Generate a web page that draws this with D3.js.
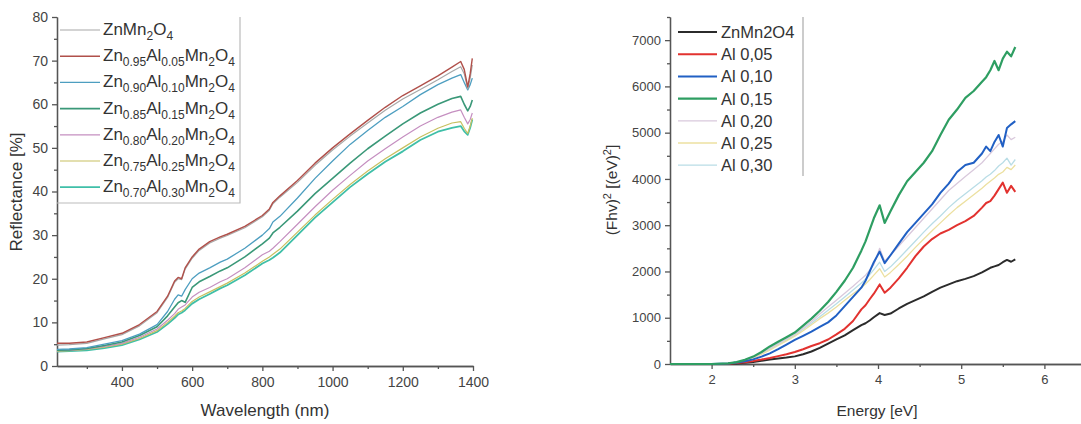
<!DOCTYPE html>
<html>
<head>
<meta charset="utf-8">
<script src="https://cdn.jsdelivr.net/npm/d3@7"></script>
<style>
  body { margin: 0; background: #fff; }
  svg { font-family: "Liberation Sans", Arial, sans-serif; }
  .axis path, .axis line { stroke: #555; stroke-width: 1.3; }
  .axis text { fill: #444; }
</style>
</head>
<body>
<svg id="chart"></svg>
<script>
// left panel: reflectance vs wavelength
const wavelength = [215, 250, 300, 350, 400, 450, 500, 530, 550, 560, 570, 580, 600, 620, 650, 680, 700, 750, 800, 820,
                    830, 850, 900, 950, 1000, 1050, 1100, 1150, 1200, 1250, 1300, 1340, 1365, 1375, 1385, 1392, 1398];
// legend labels: plain text followed by its subscript ("" = none)
const reflNames = [[["Zn", ""], ["Mn", "2"], ["O", "4"]],
                   [["Zn", "0.95"], ["Al", "0.05"], ["Mn", "2"], ["O", "4"]],
                   [["Zn", "0.90"], ["Al", "0.10"], ["Mn", "2"], ["O", "4"]],
                   [["Zn", "0.85"], ["Al", "0.15"], ["Mn", "2"], ["O", "4"]],
                   [["Zn", "0.80"], ["Al", "0.20"], ["Mn", "2"], ["O", "4"]],
                   [["Zn", "0.75"], ["Al", "0.25"], ["Mn", "2"], ["O", "4"]],
                   [["Zn", "0.70"], ["Al", "0.30"], ["Mn", "2"], ["O", "4"]]];
const refl00 = [4.8, 4.9, 5.2, 6.2, 7.2, 9.2, 12.2, 15.7, 19.2, 20, 19.8, 22.2, 24.7, 26.5, 28.2, 29.3, 29.9, 31.7, 34.2, 35.7,
                37.2, 38.7, 42.1, 46, 49.5, 52.7, 55.7, 58.6, 61.2, 63.4, 65.6, 67.5, 68.6, 67, 63.5, 66, 69];
const refl05 = [5.2, 5.2, 5.5, 6.5, 7.5, 9.5, 12.5, 16, 19.5, 20.3, 20, 22.5, 25, 26.8, 28.5, 29.6, 30.2, 32, 34.5, 36,
                37.5, 39, 42.5, 46.5, 50, 53.2, 56.3, 59.3, 62, 64.2, 66.5, 68.5, 69.8, 68, 64, 67, 70.5];
const refl10 = [3.8, 3.9, 4.2, 5, 5.8, 7.3, 9.5, 12.5, 15.3, 16.3, 16, 17.5, 20, 21.3, 22.5, 23.8, 24.5, 27, 30, 31.5,
                33, 34.3, 38.5, 43, 47, 50.8, 54, 57, 59.5, 62.2, 64.5, 66, 66.8, 65, 63.3, 64.5, 66];
const refl15 = [3.6, 3.7, 4, 4.7, 5.5, 7, 9, 11.5, 13.5, 14.5, 15, 14.6, 18, 19.3, 20.5, 21.8, 22.5, 25, 28, 29.3,
                30.5, 31.8, 35.5, 39.5, 43, 46.5, 49.8, 52.7, 55.5, 58, 60, 61.3, 61.8, 60, 58.5, 59.5, 61];
const refl20 = [3.5, 3.6, 3.9, 4.5, 5.2, 6.6, 8.5, 10.5, 12, 13, 13.5, 14, 15.8, 16.9, 18, 19.3, 20, 22.5, 25.5, 26.3,
                27, 28.5, 32.5, 36.5, 40.3, 43.7, 47, 49.8, 52.5, 55, 57, 58.2, 58.7, 57, 55.5, 56.5, 58];
const refl25 = [3.4, 3.5, 3.8, 4.3, 5, 6.3, 8.1, 10, 11.4, 12.2, 12.6, 13.2, 14.8, 15.8, 17, 18.2, 19, 21.3, 24, 25,
                25.6, 26.8, 30.7, 34.6, 38.2, 41.6, 44.7, 47.5, 50, 52.5, 54.5, 55.7, 56, 54.5, 53.3, 55, 56.8];
const refl30 = [3.3, 3.4, 3.6, 4.1, 4.8, 6.1, 7.8, 9.6, 11, 11.8, 12.2, 12.8, 14.3, 15.3, 16.5, 17.8, 18.5, 20.8, 23.5, 24.3,
                24.8, 26, 30, 34, 37.5, 41, 44, 46.8, 49.2, 51.8, 53.7, 54.6, 55, 53.8, 53, 54.6, 56.5];
const reflSeries = [refl00, refl05, refl10, refl15, refl20, refl25, refl30];
const reflColors = ["#a8a8a8", "#b0504a", "#4d9ec0", "#3a9878", "#c58fc0", "#c7c060", "#3fbfa8"];
const reflWidths = [1.2, 1.4, 1.3, 1.6, 1.2, 1.2, 1.8];
const reflXTicks = [400, 600, 800, 1000, 1200, 1400];
const reflYTicks = [0, 10, 20, 30, 40, 50, 60, 70, 80];

// right panel: (Fhv)^2 vs energy
const energy = [1.5, 1.8, 2.0, 2.2, 2.3, 2.4, 2.5, 2.6, 2.7, 2.8, 2.9, 3.0, 3.1, 3.2, 3.3, 3.4, 3.5, 3.6, 3.7, 3.8,
                3.85, 3.9, 3.95, 4.02, 4.08, 4.15, 4.25, 4.35, 4.45, 4.55, 4.65, 4.75, 4.85, 4.95, 5.05, 5.15, 5.25, 5.3, 5.35, 5.4,
                5.45, 5.5, 5.55, 5.6, 5.65];
const kmNames = ["ZnMn2O4", "Al 0,05", "Al 0,10", "Al 0,15", "Al 0,20", "Al 0,25", "Al 0,30"];
const km00 = [0, 0, 0, 5, 12, 25, 45, 70, 95, 120, 140, 165, 210, 270, 350, 440, 530, 620, 730, 840,
              880, 940, 1010, 1100, 1060, 1090, 1200, 1300, 1380, 1460, 1560, 1650, 1720, 1790, 1840, 1900, 1980, 2030, 2080, 2110,
              2140, 2200, 2250, 2210, 2260];
const km05 = [0, 0, 0, 8, 20, 40, 65, 95, 130, 170, 210, 260, 320, 390, 450, 530, 640, 760, 930, 1180,
              1270, 1400, 1520, 1720, 1540, 1650, 1850, 2080, 2330, 2540, 2700, 2820, 2900, 3000, 3090, 3200, 3380, 3480, 3520, 3640,
              3780, 3920, 3700, 3850, 3720];
const km10 = [0, 0, 0, 10, 30, 60, 100, 160, 230, 320, 420, 520, 610, 700, 800, 900, 1050, 1250, 1450, 1650,
              1800, 2000, 2200, 2430, 2180, 2350, 2600, 2850, 3050, 3250, 3450, 3700, 3900, 4150, 4300, 4350, 4550, 4700, 4600, 4800,
              4950, 4700, 5100, 5180, 5250];
const km15 = [0, 0, 0, 15, 40, 90, 160, 260, 380, 480, 580, 680, 830, 980, 1150, 1340, 1560, 1800, 2080, 2450,
              2650, 2900, 3150, 3430, 3050, 3300, 3650, 3950, 4150, 4350, 4600, 4950, 5280, 5500, 5750, 5900, 6100, 6200, 6350, 6550,
              6350, 6600, 6750, 6650, 6850];
const km20 = [0, 0, 0, 15, 40, 80, 150, 240, 340, 440, 540, 640, 780, 920, 1080, 1230, 1380, 1530, 1680, 1840,
              1920, 2030, 2150, 2500, 2220, 2350, 2550, 2750, 2950, 3150, 3350, 3550, 3750, 3900, 4050, 4200, 4350, 4450, 4550, 4650,
              4750, 4800, 4950, 4850, 4900];
const km25 = [0, 0, 0, 12, 35, 70, 130, 210, 300, 400, 500, 600, 720, 850, 980, 1100, 1230, 1380, 1520, 1650,
              1730, 1820, 1920, 2060, 1880, 1980, 2150, 2330, 2520, 2700, 2880, 3050, 3220, 3380, 3520, 3660, 3800, 3880, 3950, 4020,
              4100, 4150, 4250, 4200, 4300];
const km30 = [0, 0, 0, 14, 38, 75, 140, 225, 320, 420, 520, 620, 750, 880, 1020, 1160, 1300, 1450, 1600, 1750,
              1830, 1930, 2040, 2200, 2000, 2100, 2280, 2470, 2660, 2850, 3030, 3200, 3380, 3540, 3680, 3820, 3960, 4040, 4100, 4180,
              4280, 4350, 4450, 4300, 4420];
const kmSeries = [km00, km05, km10, km15, km20, km25, km30];
const kmColors = ["#2b2b2b", "#e2322f", "#2160c4", "#2e9e62", "#d9c9dc", "#ece0a0", "#b9dde6"];
const kmWidths = [2, 2, 2, 2.2, 1.3, 1.3, 1.3];
const kmXTicks = [2, 3, 4, 5, 6];
const kmYTicks = [0, 1000, 2000, 3000, 4000, 5000, 6000, 7000];

const W = 1081, H = 424;
const svg = d3.select("#chart").attr("width", W).attr("height", H);

function drawAxes(x, y, xTicks, xMinor, yTicks, yMinor, fs) {
  const [y0] = y.range();
  const [x0] = x.range();
  svg.append("g").attr("class", "axis").attr("transform", `translate(0,${y0})`)
    .call(d3.axisBottom(x).tickValues(xMinor).tickSize(3).tickFormat("").tickSizeOuter(0));
  svg.append("g").attr("class", "axis").attr("transform", `translate(0,${y0})`)
    .call(d3.axisBottom(x).tickValues(xTicks).tickSize(5).tickPadding(6).tickFormat(d3.format("d")).tickSizeOuter(0))
    .selectAll("text").style("font-size", fs + "px");
  svg.append("g").attr("class", "axis").attr("transform", `translate(${x0},0)`)
    .call(d3.axisLeft(y).tickValues(yMinor).tickSize(3).tickFormat("").tickSizeOuter(0));
  svg.append("g").attr("class", "axis").attr("transform", `translate(${x0},0)`)
    .call(d3.axisLeft(y).tickValues(yTicks).tickSize(5).tickPadding(4).tickFormat(d3.format("d")).tickSizeOuter(0))
    .selectAll("text").style("font-size", fs + "px");
}

// ---------- left ----------
const xL = d3.scaleLinear().domain([215, 1400]).range([57, 473]);
const yL = d3.scaleLinear().domain([0, 80]).range([366, 17]);

drawAxes(xL, yL, reflXTicks, d3.range(300, 1400, 200), reflYTicks, d3.range(5, 80, 10), 14);

const lineL = d3.line().x((d, i) => xL(wavelength[i])).y(d => yL(d));
// bottom curves first so the top pair stays visible
[6, 5, 4, 3, 2, 0, 1].forEach(k => {
  svg.append("path").datum(reflSeries[k])
    .attr("fill", "none").attr("stroke", reflColors[k]).attr("stroke-width", reflWidths[k])
    .attr("stroke-linejoin", "round").attr("d", lineL);
});

// left legend
const legL = svg.append("g");
legL.append("path").attr("d", "M57,203H240V17").attr("fill", "none").attr("stroke", "#bbb").attr("stroke-width", 1.2);
reflNames.forEach((parts, i) => {
  const ly = 30 + i * 26.2;
  legL.append("line").attr("x1", 60).attr("x2", 100).attr("y1", ly).attr("y2", ly)
    .attr("stroke", reflColors[i]).attr("stroke-width", reflWidths[i]);
  const t = legL.append("text").attr("x", 103).attr("y", ly + 5).attr("font-size", 17).attr("fill", "#333");
  let down = false;
  parts.forEach(([txt, sub]) => {
    t.append("tspan").attr("font-size", 17).attr("dy", down ? -5 : 0).text(txt);
    down = false;
    if (sub) {
      t.append("tspan").attr("font-size", 12).attr("dy", 5).text(sub);
      down = true;
    }
  });
});

svg.append("text").attr("transform", "translate(22,192) rotate(-90)").attr("text-anchor", "middle")
  .attr("font-size", 17).attr("fill", "#333").text("Reflectance [%]");
svg.append("text").attr("x", 265).attr("y", 416).attr("text-anchor", "middle")
  .attr("font-size", 17).attr("fill", "#333").text("Wavelength (nm)");

// ---------- right ----------
const xR = d3.scaleLinear().domain([1.5, 6.5]).range([670, 1086]);
const yR = d3.scaleLinear().domain([0, 7500]).range([364, 17]);

drawAxes(xR, yR, kmXTicks, [2.5, 3.5, 4.5, 5.5], kmYTicks, d3.range(500, 7600, 1000), 13);

const lineR = d3.line().x((d, i) => xR(energy[i])).y(d => yR(d));
[6, 5, 4, 0, 1, 2, 3].forEach(k => {
  svg.append("path").datum(kmSeries[k])
    .attr("fill", "none").attr("stroke", kmColors[k]).attr("stroke-width", kmWidths[k])
    .attr("stroke-linejoin", "round").attr("d", lineR);
});

const legR = svg.append("g");
legR.append("line").attr("x1", 803).attr("x2", 803).attr("y1", 17).attr("y2", 176)
  .attr("stroke", "#aaa").attr("stroke-width", 1.2);
kmNames.forEach((n, i) => {
  const ly = 32 + i * 22.2;
  legR.append("line").attr("x1", 678).attr("x2", 717).attr("y1", ly).attr("y2", ly)
    .attr("stroke", kmColors[i]).attr("stroke-width", kmWidths[i]);
  legR.append("text").attr("x", 721).attr("y", ly + 6).attr("font-size", 16.5).attr("fill", "#333").text(n);
});

const yTitle = svg.append("text").attr("transform", "translate(617,190) rotate(-90)").attr("text-anchor", "middle")
  .attr("font-size", 15.5).attr("fill", "#333");
yTitle.append("tspan").text("(Fhv)");
yTitle.append("tspan").attr("font-size", 11).attr("dy", -6).text("2");
yTitle.append("tspan").attr("dy", 6).text(" [(eV)");
yTitle.append("tspan").attr("font-size", 11).attr("dy", -6).text("2");
yTitle.append("tspan").attr("dy", 6).text("]");
svg.append("text").attr("x", 877).attr("y", 416).attr("text-anchor", "middle")
  .attr("font-size", 15.5).attr("fill", "#333").text("Energy [eV]");
</script>
</body>
</html>
